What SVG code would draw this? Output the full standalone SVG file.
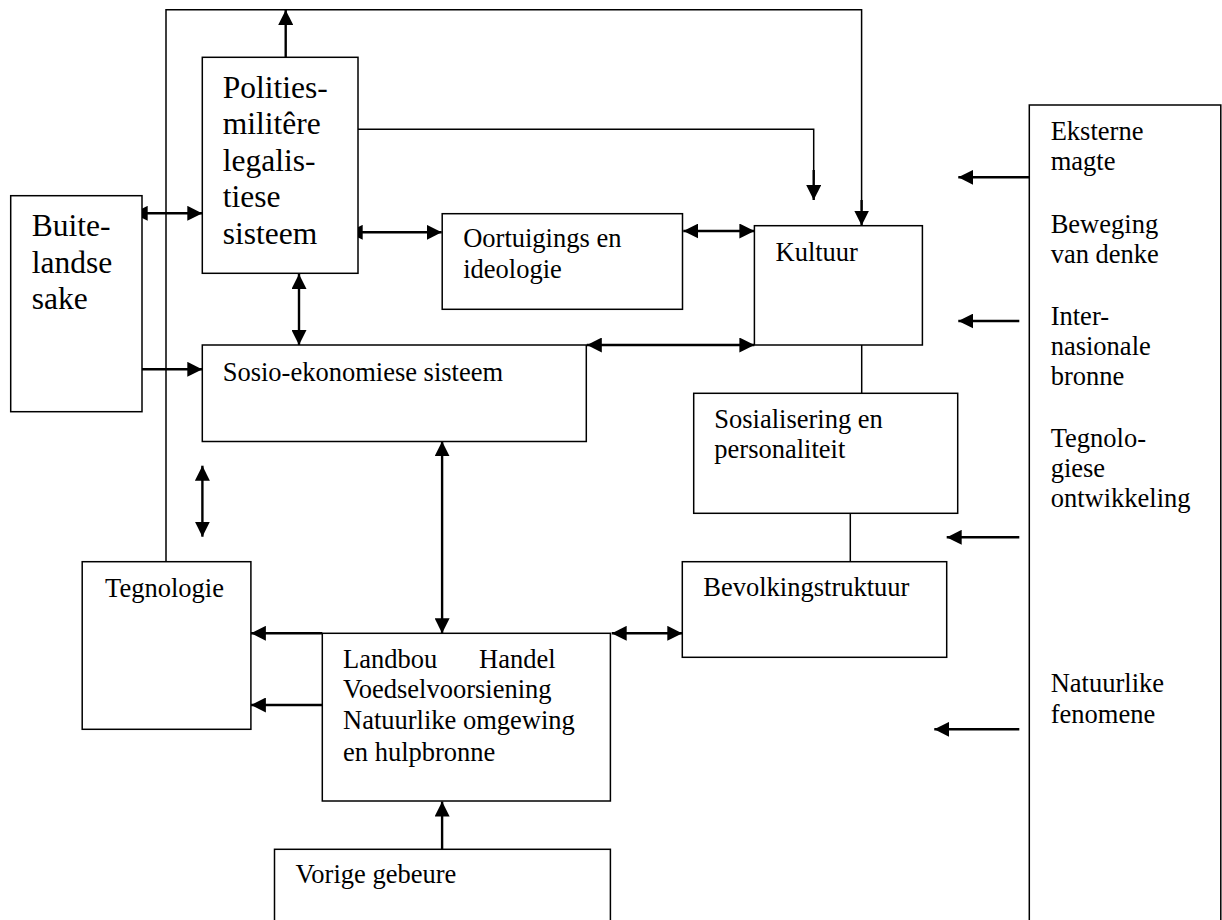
<svg xmlns="http://www.w3.org/2000/svg" width="1222" height="920" viewBox="0 0 1222 920">
<style>
.box{fill:#fff;stroke:#000;stroke-width:1.5}
.t{font-family:"Liberation Serif","Times New Roman",serif;font-size:26.5px;fill:#000}
.tb{font-family:"Liberation Serif","Times New Roman",serif;font-size:31.5px;fill:#000}
.ln{fill:none;stroke:#000;stroke-width:1.5}
.ar{fill:none;stroke:#000;stroke-width:2.4}
.one{marker-end:url(#ah)}
.two{marker-start:url(#ah);marker-end:url(#ah)}
</style>
<defs>
<marker id="ah" markerUnits="userSpaceOnUse" viewBox="0 0 15 15" refX="15" refY="7.5" markerWidth="15" markerHeight="15" orient="auto-start-reverse">
<path d="M0,0 L15,7.5 L0,15 z" fill="#000"/>
</marker>
</defs>
<rect width="1222" height="920" fill="#fff"/>
<g id="connectors">
<path class="ln" d="M166,561.7 V9.7 H861.6 V210"/>
<line class="ar one" x1="861.6" y1="200" x2="861.6" y2="225.5"/>
<line class="ar one" x1="285.7" y1="57.3" x2="285.7" y2="10"/>
<path class="ln" d="M358,129.3 H813.7 V180"/>
<line class="ar one" x1="813.7" y1="170" x2="813.7" y2="200"/>
<line class="ar two" x1="132.7" y1="213.3" x2="202.3" y2="213.3"/>
<line class="ar two" x1="347.7" y1="232.3" x2="441.7" y2="232.3"/>
<line class="ar two" x1="683.3" y1="231" x2="754.4" y2="231"/>
<line class="ar two" x1="299" y1="274" x2="299" y2="345"/>
<line class="ar one" x1="142" y1="369.3" x2="202.3" y2="369.3"/>
<line class="ar two" x1="586.8" y1="345" x2="754.4" y2="345"/>
<line class="ln" x1="861.7" y1="345" x2="861.7" y2="393.3"/>
<line class="ln" x1="850.3" y1="513.3" x2="850.3" y2="561.7"/>
<line class="ar two" x1="202.4" y1="465.7" x2="202.4" y2="536.7"/>
<line class="ar two" x1="442.1" y1="441.3" x2="442.1" y2="633.3"/>
<line class="ar two" x1="611.7" y1="633.3" x2="682.3" y2="633.3"/>
<line class="ar one" x1="322.3" y1="633.3" x2="250.9" y2="633.3"/>
<line class="ar one" x1="322.3" y1="705" x2="250.9" y2="705"/>
<line class="ar one" x1="442.1" y1="849.3" x2="442.1" y2="801.5"/>
<line class="ar one" x1="1029.3" y1="177.3" x2="958.3" y2="177.3"/>
<line class="ar one" x1="1019.3" y1="321" x2="958.3" y2="321"/>
<line class="ar one" x1="1019.3" y1="537.3" x2="946.7" y2="537.3"/>
<line class="ar one" x1="1019.3" y1="729.3" x2="934.3" y2="729.3"/>
</g>
<g id="polities">
<rect class="box" x="202.3" y="57.3" width="155.7" height="216"/>
<text class="tb" x="222.7"><tspan x="222.7" y="97.5">Polities-</tspan><tspan x="222.7" y="134">militêre</tspan><tspan x="222.7" y="170.5">legalis-</tspan><tspan x="222.7" y="207">tiese</tspan><tspan x="222.7" y="243.5">sisteem</tspan></text>
</g>
<g id="buitelandse">
<rect class="box" x="10.7" y="195.7" width="131.3" height="216"/>
<text class="tb"><tspan x="31.7" y="236">Buite-</tspan><tspan x="31.7" y="272.5">landse</tspan><tspan x="31.7" y="309">sake</tspan></text>
</g>
<g id="oortuigings">
<rect class="box" x="442.2" y="213.7" width="240.3" height="95.6"/>
<text class="t"><tspan x="463.2" y="247.3">Oortuigings en</tspan><tspan x="463.2" y="278.3">ideologie</tspan></text>
</g>
<g id="kultuur">
<rect class="box" x="754.4" y="225.7" width="168" height="119.3"/>
<text class="t" x="775.5" y="260.7">Kultuur</text>
</g>
<g id="sosio">
<rect class="box" x="202.3" y="345" width="384" height="96.5"/>
<text class="t" x="222.7" y="380.7">Sosio-ekonomiese sisteem</text>
</g>
<g id="sosialisering">
<rect class="box" x="693.7" y="393.3" width="264" height="120"/>
<text class="t"><tspan x="714.3" y="427.7">Sosialisering en</tspan><tspan x="714.3" y="458.3">personaliteit</tspan></text>
</g>
<g id="bevolking">
<rect class="box" x="682.3" y="561.7" width="264.4" height="95.6"/>
<text class="t" x="703.3" y="596">Bevolkingstruktuur</text>
</g>
<g id="tegnologie">
<rect class="box" x="82.2" y="561.7" width="168.7" height="167.6"/>
<text class="t" x="105.1" y="596.7">Tegnologie</text>
</g>
<g id="landbou">
<rect class="box" x="322.3" y="633.3" width="288.1" height="167.7"/>
<text class="t"><tspan x="343" y="667.7">Landbou</tspan><tspan x="479.1" y="667.7">Handel</tspan><tspan x="343" y="697.7">Voedselvoorsiening</tspan><tspan x="343" y="729.3">Natuurlike omgewing</tspan><tspan x="343" y="760.7">en hulpbronne</tspan></text>
</g>
<g id="vorige">
<rect class="box" x="274.5" y="849.3" width="335.9" height="90"/>
<text class="t" x="295.6" y="883.3">Vorige gebeure</text>
</g>
<g id="eksterne">
<rect class="box" x="1029.3" y="105" width="191.5" height="840"/>
<text class="t"><tspan x="1050.7" y="140">Eksterne</tspan><tspan x="1050.7" y="170">magte</tspan><tspan x="1050.7" y="232.7">Beweging</tspan><tspan x="1050.7" y="262.7">van denke</tspan><tspan x="1050.7" y="325">Inter-</tspan><tspan x="1050.7" y="355">nasionale</tspan><tspan x="1050.7" y="385">bronne</tspan><tspan x="1050.7" y="446.7">Tegnolo-</tspan><tspan x="1050.7" y="476.7">giese</tspan><tspan x="1050.7" y="506.7">ontwikkeling</tspan><tspan x="1050.7" y="691.7">Natuurlike</tspan><tspan x="1050.7" y="722.7">fenomene</tspan></text>
</g>
</svg>
